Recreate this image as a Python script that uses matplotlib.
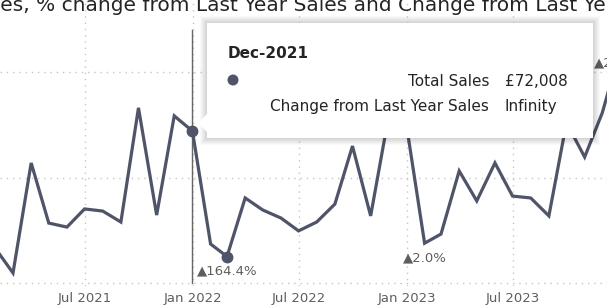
import numpy as np
import pandas as pd
import matplotlib
matplotlib.use("Agg")
import matplotlib.pyplot as plt
import matplotlib.dates as mdates
from matplotlib.patches import Rectangle, Polygon, Ellipse

# monthly total sales (GBP), Jan 2021 - Dec 2023
months = pd.date_range("2021-01-31", "2023-12-31", freq="ME")
sales = [15600, 4740, 56900, 28400, 26500, 35100, 34100, 28900, 83000, 32200, 79200, 72008,
         18490, 12530, 40300, 34600, 30800, 24700, 28900, 37400, 64900, 31800, 78000, 75000,
         18860, 23200, 53100, 38900, 56900, 41200, 40300, 31800, 76000, 59700, 80600, 111000]

tick_dates = pd.to_datetime(["2021-07-01", "2022-01-01", "2022-07-01",
                             "2023-01-01", "2023-07-01", "2024-01-01"])
tick_labels = ["Jul 2021", "Jan 2022", "Jul 2022", "Jan 2023", "Jul 2023", "Jan 2024"]
y_ticks = [0, 50000, 100000]

# % change from last year labels
change_months = ["2022-02", "2023-01", "2023-12"]
change_labels = ["▲164.4%", "▲2.0%", "▲24.1%"]

marker_months = ["2021-12", "2022-02"]
hover_month = "2021-12"

tooltip_title = "Dec-2021"
tooltip_names = ["Total Sales", "Change from Last Year Sales"]
tooltip_values = ["£72,008", "Infinity"]

title = "Total Sales, % change from Last Year Sales and Change from Last Year Sales by Month"

line_color = "#4F5469"
grid_color = "#C8C6C4"
text_color = "#252423"
label_color = "#605E5C"

W, H = 607, 305


def fx(px):
    return px / W


def fy(py):
    return 1 - py / H


s = pd.Series(sales, index=months)

fig = plt.figure(figsize=(W / 100, H / 100), dpi=100)
ax = fig.add_axes([0, 19 / H, 1, 286 / H])

ax.plot(s.index, s.values, color=line_color, linewidth=2.3, solid_joinstyle="miter", zorder=3)

for m in marker_months:
    d = s[m].index[0]
    ax.plot(d, s[m].iloc[0], "o", color=line_color, markersize=7.5, zorder=4)

for m, lab in zip(change_months, change_labels):
    d = s[m].index[0]
    ax.annotate(lab, (d, s[m].iloc[0]), xytext=(0, -10.5), textcoords="offset points",
                ha="center", va="center", fontsize=9.5, color=label_color,
                annotation_clip=False, zorder=4)

ax.set_yticks(y_ticks)
ax.set_xticks(tick_dates)
ax.set_xticklabels(tick_labels)

# scales (set after the ticks so they are not widened): 0 at pixel 283, 100k at pixel 72
per_px = 50000 / 105.5
ax.set_ylim(-3 * per_px, 283 * per_px)
day_px = 214 / 365
x_left = mdates.date2num(pd.Timestamp("2022-01-01")) - 193 / day_px
ax.set_xlim(x_left, x_left + W / day_px)

ax.grid(True, color=grid_color, linestyle=(0, (1, 3.5)), linewidth=1)
ax.tick_params(length=0, labelleft=False, labelsize=9.5, labelcolor=label_color, pad=4)
for sp in ax.spines.values():
    sp.set_visible(False)

# hover line
hx = s[hover_month].index[0]
ax.axvline(hx, ymin=3 / 286, ymax=(286 - 30) / 286, color="#666666", linewidth=1, zorder=2)
ax.set_xlim(x_left, x_left + W / day_px)

# title, cut off on both sides
t = fig.text(0, 0, "Total Sal", fontsize=14.5)
w = t.get_window_extent(fig.canvas.get_renderer()).width
t.remove()
fig.text(-w / W, fy(11), title, fontsize=14.5, color=text_color, va="baseline")

# tooltip box with soft shadow
bx0, by0, bx1, by1 = 207, 23, 593, 138
for k in range(1, 8):
    fig.add_artist(Rectangle((fx(bx0 - k), fy(by1 + k)), (bx1 - bx0 + 2 * k) / W,
                             (by1 - by0 + 2 * k) / H, transform=fig.transFigure,
                             facecolor="black", edgecolor="none", alpha=0.022, zorder=5))
box = [(bx0, by0), (bx1, by0), (bx1, by1), (bx0, by1), (bx0, 132), (198, 123), (bx0, 114)]
fig.add_artist(Polygon([(fx(a), fy(b)) for a, b in box], closed=True, transform=fig.transFigure,
                       facecolor="white", edgecolor="none", zorder=6))

fig.text(fx(228), fy(54), tooltip_title, fontsize=11, fontweight="bold", color=text_color,
         va="center", zorder=7)
fig.add_artist(Ellipse((fx(233), fy(80)), 11 / W, 11 / H, transform=fig.transFigure,
                       facecolor=line_color, edgecolor="none", zorder=7))
for i, (n, v) in enumerate(zip(tooltip_names, tooltip_values)):
    yy = fy(81 + 25.5 * i)
    fig.text(fx(489), yy, n, fontsize=11, color=text_color, ha="right", va="center", zorder=7)
    fig.text(fx(505), yy, v, fontsize=11, color=text_color, ha="left", va="center", zorder=7)

fig.savefig("out.png", dpi=100)
